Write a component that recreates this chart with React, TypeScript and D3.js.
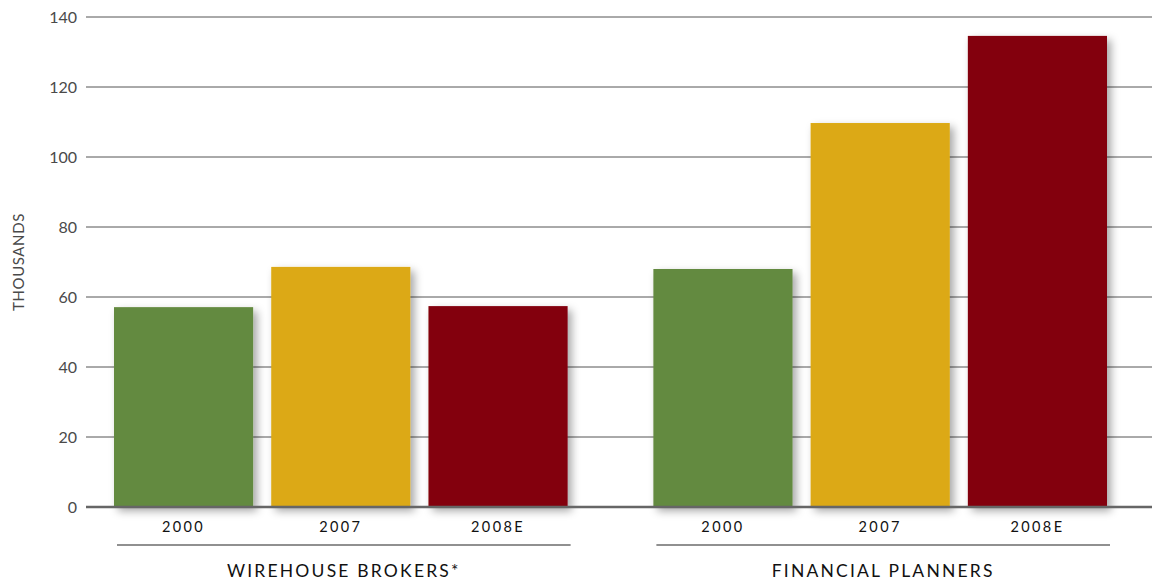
import React from "react";
import * as d3 from "d3";

const groups = ["WIREHOUSE BROKERS*", "FINANCIAL PLANNERS"];
const years = ["2000", "2007", "2008E"];
const wirehouse = [57.1, 68.6, 57.4];
const planners = [68.0, 109.7, 134.6];
const yTicks = [0, 20, 40, 60, 80, 100, 120, 140];
const colors = ["#648a3f", "#dca912", "#83000c"];

const W = 1160;
const H = 581;

export default function App() {
  const y = d3.scaleLinear().domain([0, 140]).range([507, 17]);
  const x0 = d3.scaleBand<string>().domain(groups).range([114, 1107]).paddingInner(0.159).paddingOuter(0);
  const x1 = d3.scaleBand<string>().domain(years).range([0, x0.bandwidth()]).paddingInner(0.115).paddingOuter(0);
  const series = [wirehouse, planners];
  const font = "Lato, 'Open Sans', sans-serif";

  return (
    <svg width={W} height={H} style={{ position: "absolute", left: 0, top: 0, background: "#fff" }}>
      <defs>
        <filter id="sh" x="-20%" y="-20%" width="150%" height="150%">
          <feDropShadow dx="4" dy="4" stdDeviation="4" floodColor="#000" floodOpacity="0.35" />
        </filter>
      </defs>
      {yTicks.map((t) => (
        <g key={t}>
          {t !== 0 && <line x1={86} x2={1152} y1={y(t)} y2={y(t)} stroke="#555" strokeWidth={1} />}
          <text x={77} y={y(t)} dy="0.35em" textAnchor="end" fontFamily={font} fontSize={16} fontWeight={400} fill="#4a4a4a">
            {t}
          </text>
        </g>
      ))}
      <text
        transform={`translate(24,262) rotate(-90)`}
        textAnchor="middle"
        fontFamily={font}
        fontSize={15}
        fontWeight={400}
        fill="#4a4a4a"
        letterSpacing={0.6}
      >
        THOUSANDS
      </text>
      {groups.map((g, gi) => (
        <g key={g} transform={`translate(${x0(g)},0)`}>
          {years.map((yr, i) => (
            <rect
              key={yr}
              x={x1(yr)}
              y={y(series[gi][i])}
              width={x1.bandwidth()}
              height={y(0) - y(series[gi][i])}
              fill={colors[i]}
              filter="url(#sh)"
            />
          ))}
        </g>
      ))}
      <line x1={86} x2={1152} y1={y(0)} y2={y(0)} stroke="#666" strokeWidth={2.5} />
      {groups.map((g, gi) => (
        <g key={g + "l"} transform={`translate(${x0(g)},0)`}>
          {years.map((yr) => (
            <text
              key={yr}
              x={(x1(yr) as number) + x1.bandwidth() / 2}
              y={532}
              textAnchor="middle"
              fontFamily={font}
              fontSize={14.5}
              fontWeight={400}
              fill="#111"
              letterSpacing={2.4}
            >
              {yr}
            </text>
          ))}
          <line x1={3} x2={x0.bandwidth() + 3} y1={545} y2={545} stroke="#222" strokeWidth={1.2} />
          <text
            x={x0.bandwidth() / 2 + 3}
            y={577}
            textAnchor="middle"
            fontFamily={font}
            fontSize={17.5}
            fill="#111"
            letterSpacing={2.2}
          >
            {g}
          </text>
        </g>
      ))}
    </svg>
  );
}
